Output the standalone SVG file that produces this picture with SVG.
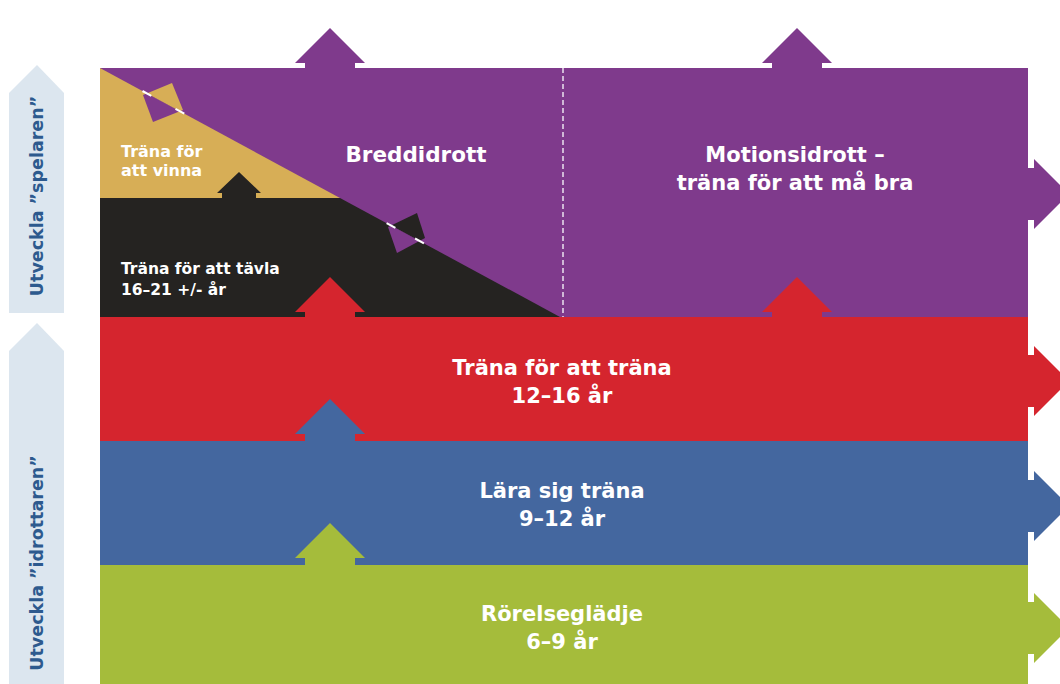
<svg xmlns="http://www.w3.org/2000/svg" width="1060" height="684" viewBox="0 0 1060 684">
<style>
.lbl{font-family:"DejaVu Sans","Liberation Sans",sans-serif;font-weight:700;fill:#ffffff}
.mid{text-anchor:middle}
.side{font-family:"DejaVu Sans","Liberation Sans",sans-serif;font-weight:700;fill:#2d5a8e;font-size:17.5px;text-anchor:middle}
.purple{fill:#7f3a8c}.red{fill:#d5252e}.blue{fill:#44679f}.green{fill:#a5bc3b}.gold{fill:#d7ae56}.black{fill:#252321}
.gap{stroke:#ffffff;stroke-width:2}
</style>
<defs>
<clipPath id="above"><polygon points="0,0 1060,0 1060,587.6 0,13.9"/></clipPath>
<clipPath id="below"><polygon points="0,13.9 1060,587.6 1060,684 0,684"/></clipPath>
</defs>
<rect width="1060" height="684" fill="#ffffff"/>

<g id="side-spelaren">
<polygon points="9,93 37,65 64,93 64,313 9,313" fill="#dce6ef"/>
<text class="side" transform="translate(37,196) rotate(-90)" x="0" y="6">Utveckla ”spelaren”</text>
</g>
<g id="side-idrottaren">
<polygon points="9,351 37,323 64,351 64,684 9,684" fill="#dce6ef"/>
<text class="side" transform="translate(37,563) rotate(-90)" x="0" y="6">Utveckla ”idrottaren”</text>
</g>

<g id="connectors">
<polygon class="purple" points="330,28 365,63 355,63 355,70 305,70 305,63 295,63"/>
<polygon class="purple" points="797,28 832,63 822,63 822,70 772,70 772,63 762,63"/>
<polygon class="purple" points="1026,168 1034,168 1034,159 1069,194 1034,229 1034,220 1026,220"/>
<polygon class="red" points="1026,355 1034,355 1034,346 1069,381 1034,416 1034,407 1026,407"/>
<polygon class="blue" points="1026,480 1034,480 1034,471 1069,506 1034,541 1034,532 1026,532"/>
<polygon class="green" points="1026,602 1034,602 1034,593 1069,628 1034,663 1034,654 1026,654"/>
</g>

<g id="band-rorelseglädje">
<rect class="green" x="100" y="565" width="928" height="119"/>
<text class="lbl mid" x="562" y="621" font-size="21">Rörelseglädje</text>
<text class="lbl mid" x="562" y="649" font-size="21">6–9 år</text>
</g>
<g id="band-lara-sig-trana">
<rect class="blue" x="100" y="441" width="928" height="124"/>
<polygon class="green" points="330,523 365,558 355,558 355,566 305,566 305,558 295,558"/>
<text class="lbl mid" x="562" y="498" font-size="21">Lära sig träna</text>
<text class="lbl mid" x="562" y="526" font-size="21">9–12 år</text>
</g>
<g id="band-trana-for-att-trana">
<rect class="red" x="100" y="317" width="928" height="124"/>
<polygon class="blue" points="330,399 365,434 355,434 355,442 305,442 305,434 295,434"/>
<text class="lbl mid" x="562" y="375" font-size="21">Träna för att träna</text>
<text class="lbl mid" x="562" y="403" font-size="21">12–16 år</text>
</g>
<g id="band-top">
<rect class="purple" x="100" y="68" width="928" height="249"/>
<polygon class="gold" points="100,68 340,198 100,198"/>
<polygon class="black" points="100,198 340,198 560,317 100,317"/>
<line x1="563" y1="68" x2="563" y2="317" stroke="#ffffff" stroke-width="1.5" stroke-dasharray="5,3" opacity="0.85"/>
<polygon class="red" points="330,277 365,312 355,312 355,318 305,318 305,312 295,312"/>
<polygon class="red" points="797,277 832,312 822,312 822,318 772,318 772,312 762,312"/>
<polygon class="black" points="239,172 261,193 256,193 256,199 222,199 222,193 217,193"/>
</g>
<g id="swap-gold">
<polygon class="gold" clip-path="url(#above)" points="143,95 172,83 183,110 153,122"/>
<polygon class="purple" clip-path="url(#below)" points="143,95 172,83 183,110 153,122"/>
<line class="gap" x1="142.5" y1="91" x2="151.3" y2="95.8"/>
<line class="gap" x1="175.5" y1="108.8" x2="184.3" y2="113.6"/>
</g>
<g id="swap-black">
<polygon class="black" clip-path="url(#above)" points="388,227 417,213 425,238 397,253"/>
<polygon class="purple" clip-path="url(#below)" points="388,227 417,213 425,238 397,253"/>
<line class="gap" x1="386.6" y1="223.1" x2="395.4" y2="227.9"/>
<line class="gap" x1="415.1" y1="238.5" x2="423.9" y2="243.3"/>
</g>

<g id="node-vinna">
<text class="lbl" x="121" y="157" font-size="16">Träna för</text>
<text class="lbl" x="121" y="176" font-size="16">att vinna</text>
</g>
<g id="node-tavla">
<text class="lbl" x="121" y="274" font-size="15.5">Träna för att tävla</text>
<text class="lbl" x="121" y="295" font-size="15.5">16–21 +/- år</text>
</g>
<g id="node-breddidrott">
<text class="lbl mid" x="416" y="162" font-size="21.5">Breddidrott</text>
</g>
<g id="node-motionsidrott">
<text class="lbl mid" x="795" y="162" font-size="21">Motionsidrott –</text>
<text class="lbl mid" x="795" y="190" font-size="21">träna för att må bra</text>
</g>
</svg>
